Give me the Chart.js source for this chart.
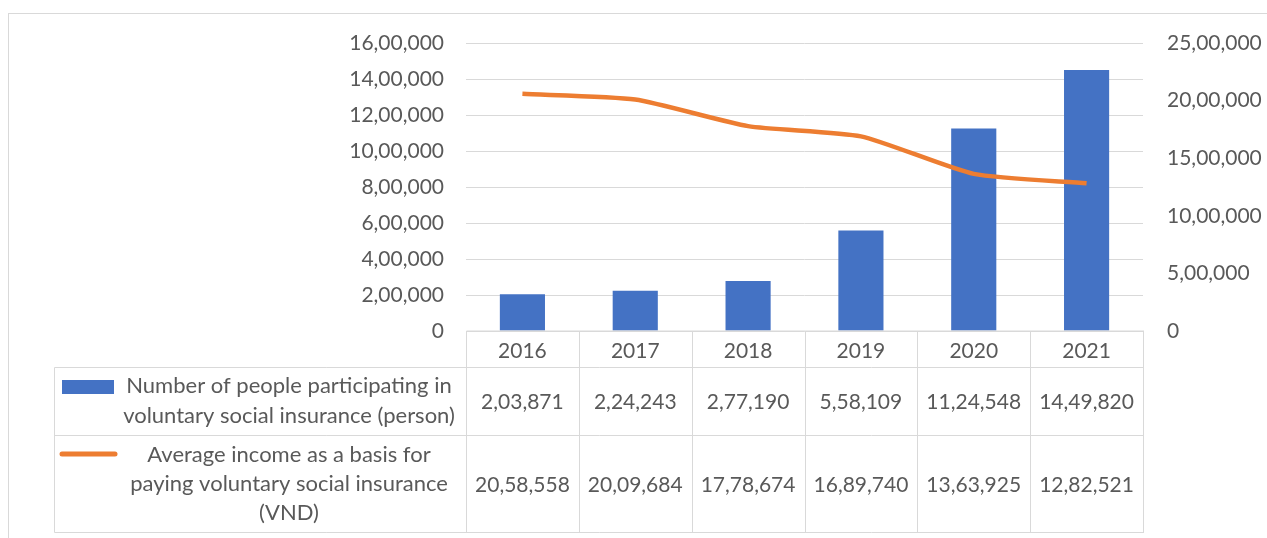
<!DOCTYPE html>
<html>
<head>
<meta charset="utf-8">
<script src="https://cdn.jsdelivr.net/npm/chart.js@4.4.0/dist/chart.umd.min.js"></script>
<style>
    html, body { margin: 0; padding: 0; background: #ffffff; }
    #wrap { width: 1267px; height: 538px; }
</style>
</head>
<body>
<div id="wrap"><canvas id="insuranceChart" width="1267" height="538"></canvas></div>
<script>
const years = ["2016", "2017", "2018", "2019", "2020", "2021"];
const participants = [203871, 224243, 277190, 558109, 1124548, 1449820];
const avgIncome = [2058558, 2009684, 1778674, 1689740, 1363925, 1282521];
const participantsLabel = ["Number of people participating in", "voluntary social insurance (person)"];
const incomeLabel = ["Average income as a basis for", "paying voluntary social insurance", "(VND)"];
const leftAxis = { min: 0, max: 1600000, step: 200000 };
const rightAxis = { min: 0, max: 2500000, step: 500000 };

const BLUE = "#4472C4";
const ORANGE = "#ED7D31";
const GRID = "#D9D9D9";
const TEXT = "#595959";
const FONT = "Lato, 'Open Sans', sans-serif";

// 16,00,000 style grouping
function indianFormat(n) {
    let s = String(Math.round(n));
    if (s.length <= 3) return s;
    let last3 = s.slice(-3);
    let rest = s.slice(0, -3).replace(/\B(?=(\d{2})+(?!\d))/g, ",");
    return rest + "," + last3;
}

// draws the excel style data table under the plot
const dataTablePlugin = {
    id: "dataTable",
    afterDraw(chart) {
        let ctx = chart.ctx;
        let area = chart.chartArea;
        let xs = chart.scales.x;
        let colW = (area.right - area.left) / years.length;
        let headerBottom = 367.5, row1Bottom = 435.5, row2Bottom = 532.5;
        let tableLeft = 54.5;

        ctx.save();
        // outer chart border
        ctx.strokeStyle = GRID;
        ctx.lineWidth = 1;
        ctx.strokeRect(8.5, 13.5, 1400, 600);

        ctx.beginPath();
        ctx.moveTo(Math.round(area.left) + 0.5, area.bottom);
        ctx.lineTo(area.right + 1, area.bottom);
        [headerBottom, row1Bottom, row2Bottom].forEach(function (y) {
            ctx.moveTo(tableLeft, y);
            ctx.lineTo(area.right + 1, y);
        });
        ctx.moveTo(tableLeft, headerBottom);
        ctx.lineTo(tableLeft, row2Bottom);
        for (let i = 0; i <= years.length; i++) {
            let x = Math.round(area.left + i * colW) + 0.5;
            ctx.moveTo(x, area.bottom);
            ctx.lineTo(x, row2Bottom);
        }
        ctx.stroke();

        // values
        ctx.fillStyle = TEXT;
        ctx.font = "21px " + FONT;
        ctx.textAlign = "center";
        ctx.textBaseline = "middle";
        years.forEach(function (y, i) {
            let x = xs.getPixelForValue(i);
            ctx.fillText(indianFormat(participants[i]), x, 402);
            ctx.fillText(indianFormat(avgIncome[i]), x, 485);
        });

        // legend keys
        ctx.fillStyle = BLUE;
        ctx.fillRect(62, 380, 52, 14);
        ctx.strokeStyle = ORANGE;
        ctx.lineWidth = 5;
        ctx.lineCap = "round";
        ctx.beginPath();
        ctx.moveTo(62, 454);
        ctx.lineTo(115, 454);
        ctx.stroke();

        // series names
        ctx.fillStyle = TEXT;
        ctx.font = "22px " + FONT;
        participantsLabel.forEach(function (t, i) {
            ctx.fillText(t, 289, 386 + i * 30);
        });
        incomeLabel.forEach(function (t, i) {
            ctx.fillText(t, 289, 455 + i * 29);
        });
        ctx.restore();
    }
};

let ctx = document.getElementById("insuranceChart").getContext("2d");

new Chart(ctx, {
    type: "bar",
    data: {
        labels: years,
        datasets: [{
            type: "line",
            label: incomeLabel.join(" "),
            data: avgIncome,
            yAxisID: "y1",
            borderColor: ORANGE,
            borderWidth: 4.5,
            pointRadius: 0,
            tension: 0.2,
            order: 0
        }, {
            type: "bar",
            label: participantsLabel.join(" "),
            data: participants,
            yAxisID: "y",
            backgroundColor: BLUE,
            categoryPercentage: 1,
            barPercentage: 0.4,
            order: 1
        }]
    },
    options: {
        responsive: false,
        animation: false,
        events: [],
        layout: {
            autoPadding: false,
            padding: { top: 43, left: 0, right: 0, bottom: 0 }
        },
        plugins: {
            legend: { display: false },
            tooltip: { enabled: false }
        },
        scales: {
            x: {
                grid: { display: false },
                border: { display: false },
                ticks: { color: TEXT, font: { family: FONT, size: 21 }, padding: 0 },
                afterFit: function (scale) { scale.height = 207; }
            },
            y: {
                position: "left",
                min: leftAxis.min,
                max: leftAxis.max,
                grid: { color: GRID, drawTicks: false },
                border: { display: false },
                ticks: {
                    stepSize: leftAxis.step,
                    color: TEXT,
                    font: { family: FONT, size: 21 },
                    padding: 22,
                    callback: function (v) { return indianFormat(v); }
                },
                afterFit: function (scale) { scale.width = 466; }
            },
            y1: {
                position: "right",
                min: rightAxis.min,
                max: rightAxis.max,
                grid: { drawOnChartArea: false, drawTicks: false },
                border: { display: false },
                ticks: {
                    stepSize: rightAxis.step,
                    color: TEXT,
                    font: { family: FONT, size: 21 },
                    padding: 24,
                    callback: function (v) { return indianFormat(v); }
                },
                afterFit: function (scale) { scale.width = 124; }
            }
        }
    },
    plugins: [dataTablePlugin]
});
</script>
</body>
</html>
